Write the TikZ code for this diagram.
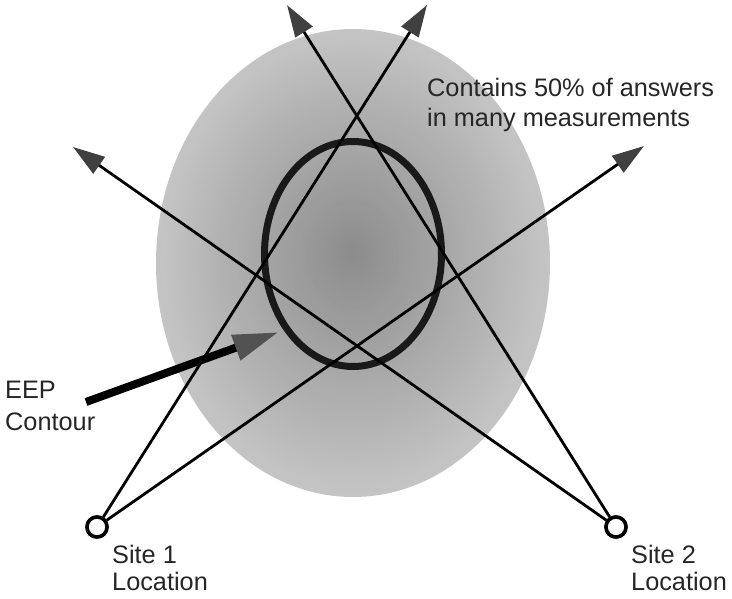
\documentclass[tikz,border=0pt]{standalone}
\usepackage{fontspec}
\setmainfont{Liberation Sans}
\usetikzlibrary{arrows.meta}
\definecolor{txt}{HTML}{262626}
\tikzset{
  site/.style={circle, draw=black, line width=3.5pt, minimum size=20pt, inner sep=0pt, fill=white},
  ray/.style={line width=2.8pt, black, -{Triangle[length=32pt,width=20pt,color=black!75]}},
  eeparrow/.style={line width=8pt, black, -{Triangle[length=46pt,width=25pt,color=black!68]}},
  contour/.style={line width=7pt, black!90},
  lbl/.style={text=txt, inner sep=0pt, align=left, font=\fontsize{25.3}{27}\selectfont},
  note/.style={text=txt, inner sep=0pt, align=left, font=\fontsize{25.3}{30}\selectfont},
}
\begin{document}
\begin{tikzpicture}[x=1pt,y=-1pt]
\useasboundingbox (0,0) rectangle (732,599);
% shaded region
\foreach \i in {0,...,59}{
  \pgfmathsetmacro\f{1-\i/60}
  \pgfmathsetmacro\k{23+22*\i/59}
  \pgfmathsetmacro\cy{263-11*\i/60}
  \fill[black!\k!white] (353,\cy) ellipse [x radius=197*\f, y radius=234*\f];
}
% EEP contour
\draw[contour] (353,254) ellipse [x radius=88.5, y radius=112.5];
% sites
\node[site] (s1) at (97,527) {};
\node[site] (s2) at (616,527) {};
\coordinate (t1a) at (427,5);
\coordinate (t1b) at (644,146);
\coordinate (t2a) at (287,5);
\coordinate (t2b) at (73,147);
\draw[ray] (s1) -- (t1a);
\draw[ray] (s1) -- (t1b);
\draw[ray] (s2) -- (t2a);
\draw[ray] (s2) -- (t2b);
\node[site] at (s1) {};
\node[site] at (s2) {};
% EEP pointer
\coordinate (e0) at (86,402);
\coordinate (e1) at (279,332);
\draw[eeparrow] (e0) -- (e1);
% labels (base anchor = baseline of the last line)
\node[note, anchor=base west] (n1) at (427,127) {Contains 50\% of answers\\in many measurements};
\node[lbl, anchor=base west, font=\fontsize{25.3}{32}\selectfont] (eep) at (5,430) {EEP\\Contour};
\node[lbl, anchor=base west] (l1) at (112,590) {Site 1\\Location};
\node[lbl, anchor=base west] (l2) at (631,590) {Site 2\\Location};
\end{tikzpicture}
\end{document}
